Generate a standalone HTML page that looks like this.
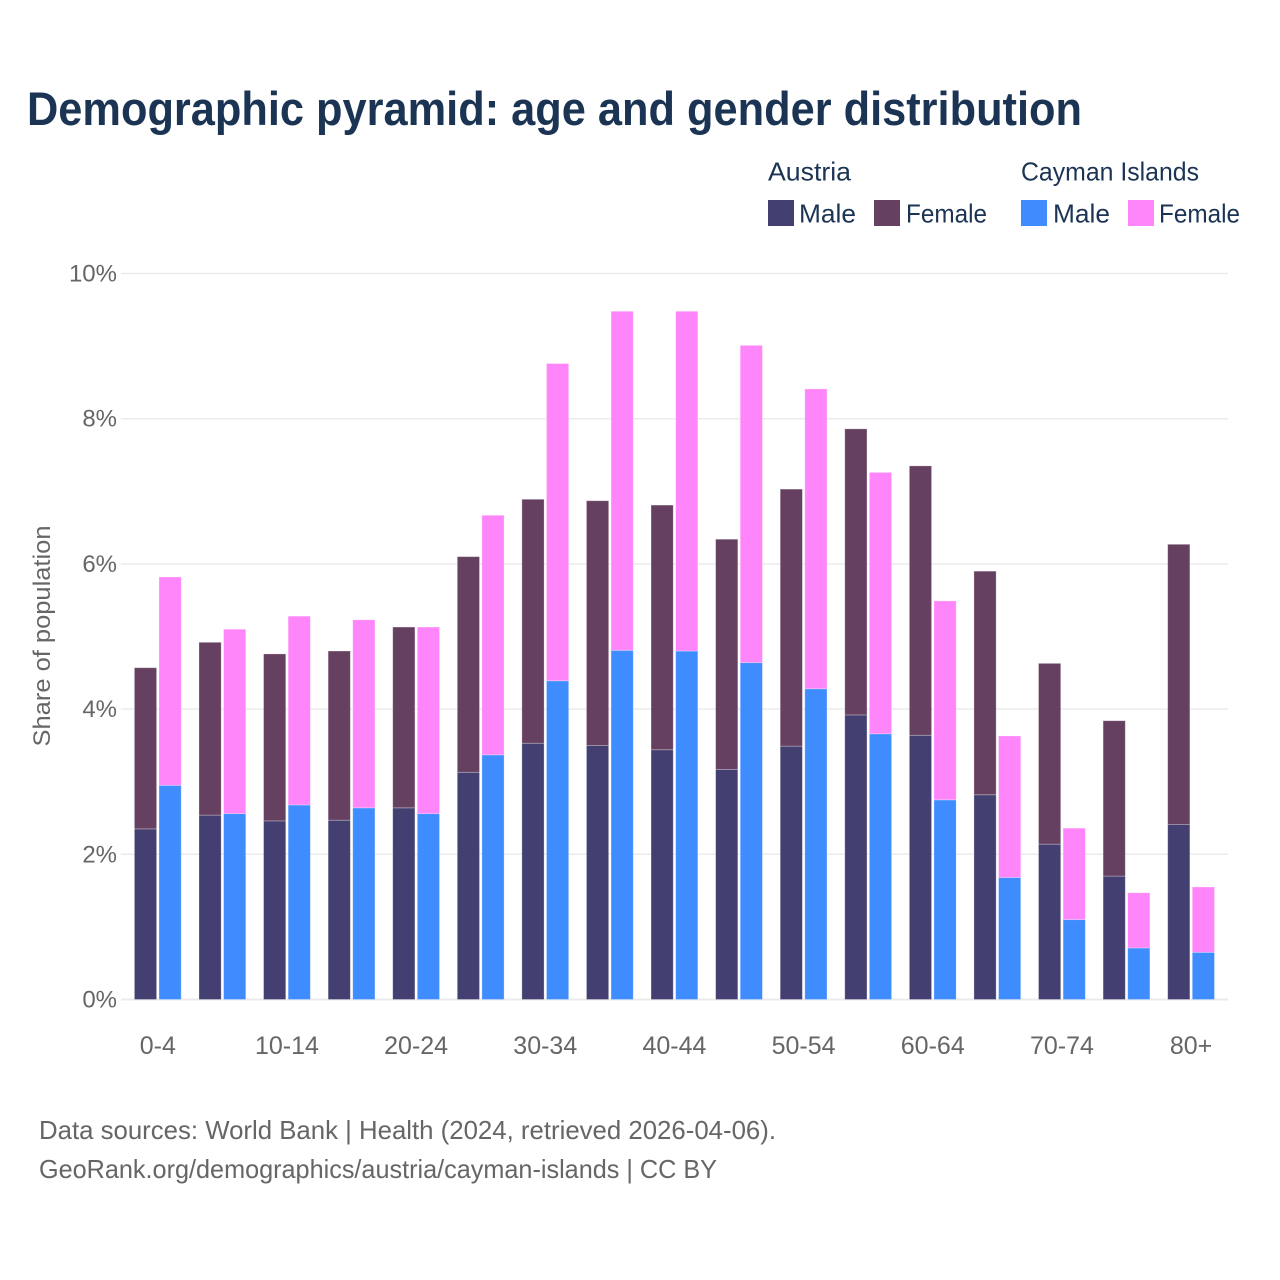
<!DOCTYPE html>
<html lang="en">
<head>
<meta charset="utf-8">
<title>Demographic pyramid: age and gender distribution</title>
<style>
html,body{margin:0;padding:0;background:#fff;}
svg{display:block;font-family:"Liberation Sans",sans-serif;}
</style>
</head>
<body>
<svg id="chart" xmlns="http://www.w3.org/2000/svg" width="1280" height="1280" viewBox="0 0 1280 1280">
  <rect x="0" y="0" width="1280" height="1280" fill="#ffffff"/>
  <text x="27" y="125" font-size="47" font-weight="700" fill="#1b3454" textLength="1055" lengthAdjust="spacingAndGlyphs">Demographic pyramid: age and gender distribution</text>

  <g font-size="26" fill="#1b3454">
    <text x="768" y="180.5" textLength="83" lengthAdjust="spacingAndGlyphs">Austria</text>
    <text x="1021" y="180.5" textLength="178" lengthAdjust="spacingAndGlyphs">Cayman Islands</text>
    <rect x="768" y="200" width="26" height="26" fill="#433f70"/>
    <text x="799" y="222.5" textLength="57" lengthAdjust="spacingAndGlyphs">Male</text>
    <rect x="874" y="200" width="26" height="26" fill="#664060"/>
    <text x="906" y="222.5" textLength="81" lengthAdjust="spacingAndGlyphs">Female</text>
    <rect x="1021" y="200" width="26" height="26" fill="#3f8cff"/>
    <text x="1053" y="222.5" textLength="57" lengthAdjust="spacingAndGlyphs">Male</text>
    <rect x="1128" y="200" width="26" height="26" fill="#ff85fa"/>
    <text x="1159" y="222.5" textLength="81" lengthAdjust="spacingAndGlyphs">Female</text>
  </g>

  <g id="grid"></g>
  <g id="yticks" font-size="24" fill="#666666" text-anchor="end"></g>
  <g id="bars"></g>
  <g id="xticks" font-size="25" fill="#666666" text-anchor="middle"></g>

  <text transform="translate(50,636) rotate(-90)" text-anchor="middle" font-size="24" fill="#666666" textLength="221" lengthAdjust="spacingAndGlyphs">Share of population</text>

  <text x="39" y="1139" font-size="26" fill="#666666" textLength="737" lengthAdjust="spacingAndGlyphs">Data sources: World Bank | Health (2024, retrieved 2026-04-06).</text>
  <text x="39" y="1178" font-size="26" fill="#666666" textLength="678" lengthAdjust="spacingAndGlyphs">GeoRank.org/demographics/austria/cayman-islands | CC BY</text>
</svg>
<script>
const ageGroups = ['0-4','5-9','10-14','15-19','20-24','25-29','30-34','35-39','40-44','45-49','50-54','55-59','60-64','65-69','70-74','75-79','80+'];
const austriaMale = [2.35,2.54,2.46,2.47,2.64,3.13,3.53,3.50,3.44,3.17,3.49,3.92,3.64,2.82,2.14,1.70,2.41];
const austriaFemale = [2.22,2.38,2.30,2.33,2.49,2.97,3.36,3.37,3.37,3.17,3.54,3.94,3.71,3.08,2.49,2.14,3.86];
const caymanMale = [2.95,2.56,2.68,2.64,2.56,3.37,4.39,4.81,4.80,4.64,4.28,3.66,2.75,1.68,1.10,0.71,0.65];
const caymanFemale = [2.87,2.54,2.60,2.59,2.57,3.30,4.37,4.67,4.68,4.37,4.13,3.60,2.74,1.95,1.26,0.76,0.90];
const yTicks = [0,2,4,6,8,10];
const xTickLabels = ['0-4','10-14','20-24','30-34','40-44','50-54','60-64','70-74','80+'];

const NS = 'http://www.w3.org/2000/svg';
const yScale = v => 999.5 - v * 72.6;
const xCenter = i => 157.8 + i * 64.58;
const BAR_W = 22.2;
const GAP = 2.4;

function make(tag, attrs, parent) {
  const el = document.createElementNS(NS, tag);
  for (const k in attrs) el.setAttribute(k, attrs[k]);
  parent.appendChild(el);
  return el;
}

const gridG = document.getElementById('grid');
const yG = document.getElementById('yticks');
yTicks.forEach(t => {
  const line = make('line', {x1: 121, x2: 1228, y1: yScale(t), y2: yScale(t), stroke: '#ebebeb', 'stroke-width': t === 0 ? 2 : 1.5}, gridG);
  
  
  const label = make('text', {x: 117, y: yScale(t) + 8}, yG);
  
  
  label.textContent = t + '%';
});

const barsG = document.getElementById('bars');
function segment(x, base, value, fill) {
  const top = yScale(base + value);
  const rect = make('rect', {
    x: x, y: top, width: BAR_W, height: yScale(base) - top,
    fill: fill, stroke: '#ffffff', 'stroke-opacity': 0.35, 'stroke-width': 0.8
  }, barsG);
  
  
}
ageGroups.forEach((g, i) => {
  const c = xCenter(i);
  const xA = c - GAP / 2 - BAR_W;
  const xC = c + GAP / 2;
  segment(xA, 0, austriaMale[i], '#433f70');
  segment(xA, austriaMale[i], austriaFemale[i], '#664060');
  segment(xC, 0, caymanMale[i], '#3f8cff');
  segment(xC, caymanMale[i], caymanFemale[i], '#ff85fa');
});

const xG = document.getElementById('xticks');
xTickLabels.forEach(lbl => {
  const i = ageGroups.indexOf(lbl);
  const t = make('text', {x: xCenter(i), y: 1054}, xG);
  
  
  t.textContent = lbl;
});
</script>
</body>
</html>
